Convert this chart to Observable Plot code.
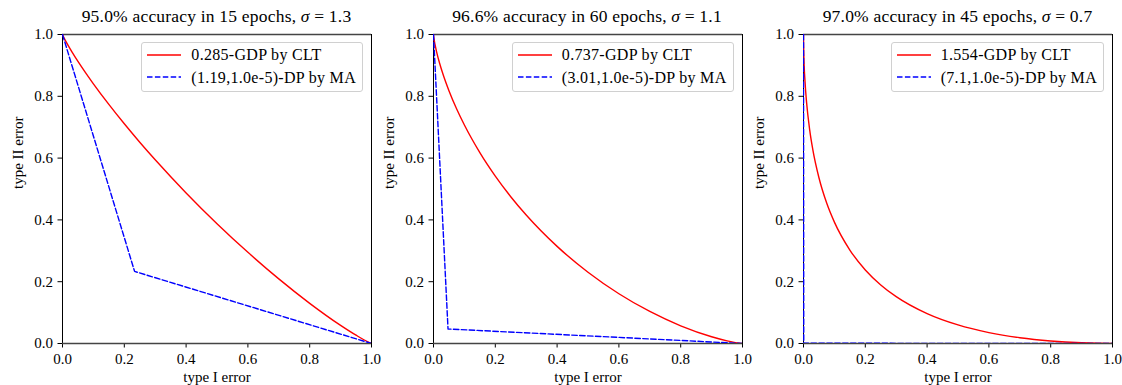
<!DOCTYPE html>
<html>
<head>
<meta charset="utf-8">
<script src="https://cdn.jsdelivr.net/npm/d3@7"></script>
<script src="https://cdn.jsdelivr.net/npm/@observablehq/plot@0.6"></script>
<style>
  html, body { margin: 0; padding: 0; background: white; }
  #wrap { position: relative; width: 1122px; height: 385px; overflow: hidden; background: white;
          font-family: "Liberation Serif", serif; color: black; }
  .panel { position: absolute; top: 0; }
  .title { position: absolute; top: 6px; font-size: 17.5px; letter-spacing: 0.2px; white-space: nowrap; transform: translateX(-50%); }
  .legend { position: absolute; top: 42px; height: 48px; border: 1px solid #d0d0d0; border-radius: 3px;
            background: rgba(255,255,255,0.85); font-size: 16px; letter-spacing: 0.3px; padding-right: 6px; }
  .row { position: relative; height: 23px; line-height: 23px; padding-left: 49px; white-space: nowrap; }
  .row svg { position: absolute; left: 5px; top: 0; }
</style>
</head>
<body>
<div id="wrap"></div>
<script>
// ---------- data ----------
const titles = [
  ["95.0% accuracy in 15 epochs, ", "1.3"],
  ["96.6% accuracy in 60 epochs, ", "1.1"],
  ["97.0% accuracy in 45 epochs, ", "0.7"]
];
const gdpLabels = ["0.285-GDP by CLT", "0.737-GDP by CLT", "1.554-GDP by CLT"];
const dpLabels = ["(1.19,1.0e-5)-DP by MA", "(3.01,1.0e-5)-DP by MA", "(7.1,1.0e-5)-DP by MA"];
const ticks = [0, 0.2, 0.4, 0.6, 0.8, 1.0];

// type I error grid for the GDP curves
const alpha = [0, 0.0001, 0.001, 0.005, 0.01, 0.02, 0.03, 0.05, 0.075, 0.1, 0.15, 0.2, 0.25, 0.3,
               0.4, 0.5, 0.6, 0.7, 0.8, 0.9, 0.95, 0.99, 1];
// type II error of GDP curves
const gdp1 = [1, 0.9997, 0.9975, 0.9890, 0.9794, 0.9616, 0.9448, 0.9131, 0.8759, 0.8405, 0.7738, 0.7111,
              0.6515, 0.5946, 0.4874, 0.3878, 0.2952, 0.2091, 0.1300, 0.0586, 0.0268, 0.0045, 0];
const gdp2 = [1, 0.9986, 0.9907, 0.9670, 0.9440, 0.9061, 0.8737, 0.8181, 0.7588, 0.7070, 0.6177, 0.5417,
              0.4751, 0.4158, 0.3143, 0.2306, 0.1610, 0.1036, 0.0572, 0.0218, 0.0086, 0.0011, 0];
const gdp3 = [1, 0.9848, 0.9377, 0.8466, 0.7800, 0.6915, 0.6282, 0.5363, 0.4544, 0.3927, 0.3024, 0.2381,
              0.1896, 0.1516, 0.0967, 0.0601, 0.0354, 0.0188, 0.0083, 0.0023, 0.0007, 0.0001, 0];
// DP trade-off curves: vertices (type I, type II)
const dpX1 = [0, 0.2333, 1], dpY1 = [1, 0.2333, 0];
const dpX2 = [0, 0.047, 1],  dpY2 = [1, 0.047, 0];
const dpX3 = [0, 0.0008, 1], dpY3 = [1, 0.0008, 0];

const gdpY = [gdp1, gdp2, gdp3];
const dpX = [dpX1, dpX2, dpX3];
const dpY = [dpY1, dpY2, dpY3];

// ---------- drawing ----------
const wrap = document.getElementById("wrap");
const lefts = [12, 382.5, 753];
const mL = 50, mR = 10, plotW = 309 + mL + mR;
const dash = "5.5,2.4";

for (let i = 0; i < 3; i++) {
  const gdp = alpha.map((a, k) => ({x: a, y: gdpY[i][k]}));
  const dp = dpX[i].map((a, k) => ({x: a, y: dpY[i][k]}));
  const chart = Plot.plot({
    width: plotW, height: 385,
    marginLeft: mL, marginRight: mR, marginTop: 34, marginBottom: 42,
    x: {domain: [0, 1]},
    y: {domain: [0, 1]},
    style: {fontFamily: "'Liberation Serif', serif", fontSize: "15px", color: "black", background: "transparent", overflow: "visible"},
    marks: [
      Plot.axisX({ticks: ticks, tickFormat: d3.format(".1f"), tickSize: 4.5, tickPadding: 5, label: null, fontSize: 15}),
      Plot.axisY({ticks: ticks, tickFormat: d3.format(".1f"), tickSize: 4.5, tickPadding: 5, label: null, fontSize: 15}),
      Plot.text(["type I error"], {frameAnchor: "bottom", dy: 34, text: d => d, fontSize: 15, lineAnchor: "middle", letterSpacing: "0.4px"}),
      Plot.text(["type II error"], {frameAnchor: "left", dx: -44, rotate: -90, text: d => d, fontSize: 15, lineAnchor: "middle", letterSpacing: "0.4px"}),
      Plot.frame({stroke: "black", strokeWidth: 1}),
      Plot.ruleY([0, 1], {stroke: "#444", strokeWidth: 1.6}),
      Plot.line(gdp, {x: "x", y: "y", stroke: "red", strokeWidth: 1.4, curve: "monotone-x", clip: true}),
      Plot.line(dp, {x: "x", y: "y", stroke: "blue", strokeWidth: 1.4, strokeDasharray: dash, clip: true})
    ]
  });
  chart.classList.add("panel");
  chart.style.left = lefts[i] + "px";
  wrap.appendChild(chart);

  const frameL = lefts[i] + mL, frameR = frameL + 309;

  const t = document.createElement("div");
  t.className = "title";
  t.style.left = ((frameL + frameR) / 2) + "px";
  t.innerHTML = titles[i][0] + "<i>σ</i> = " + titles[i][1];
  wrap.appendChild(t);

  const lg = document.createElement("div");
  lg.className = "legend";
  lg.style.right = (1122 - (frameR - 8)) + "px";
  lg.innerHTML =
    `<div class="row"><svg width="34" height="23"><line x1="0" x2="34" y1="12" y2="12" stroke="red" stroke-width="1.4"/></svg>${gdpLabels[i]}</div>` +
    `<div class="row"><svg width="34" height="23"><line x1="0" x2="34" y1="11" y2="11" stroke="blue" stroke-width="1.4" stroke-dasharray="${dash}"/></svg>${dpLabels[i]}</div>`;
  wrap.appendChild(lg);
}
</script>
</body>
</html>
